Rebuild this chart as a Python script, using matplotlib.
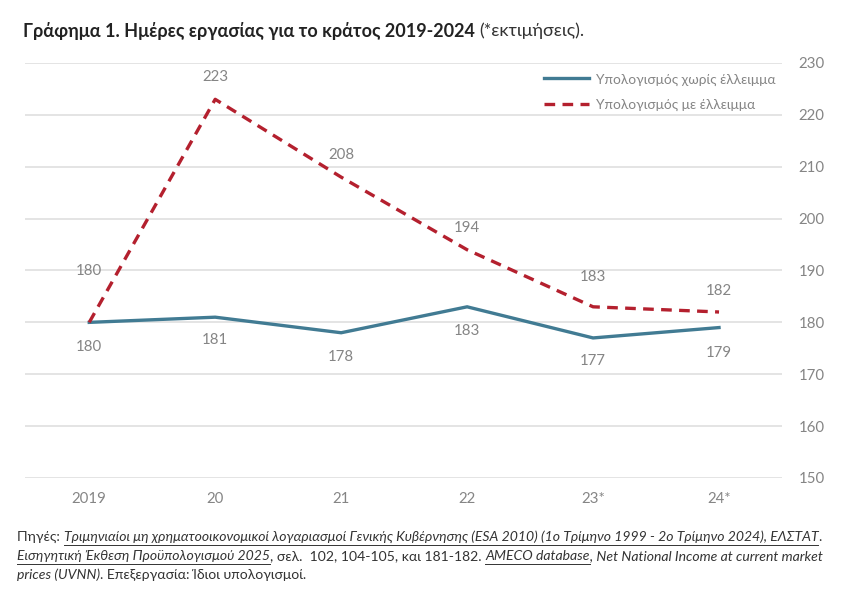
import matplotlib
matplotlib.use("Agg")
import matplotlib.pyplot as plt
from matplotlib.lines import Line2D

plt.rcParams['font.family'] = ['Lato', 'Noto Sans', 'DejaVu Sans']

years = ["2019", "20", "21", "22", "23*", "24*"]
no_deficit = [180, 181, 178, 183, 177, 179]
with_deficit = [180, 223, 208, 194, 183, 182]
yticks = [150, 160, 170, 180, 190, 200, 210, 220, 230]

BLUE = "#417b93"
RED = "#b4202e"
GREY = "#858585"
GRID = "#dcdcdc"

fig = plt.figure(figsize=(8.51, 6.09), dpi=100)
ax = fig.add_axes([25 / 851, 1 - 478 / 609, (782 - 25) / 851, (478 - 63) / 609])

x = list(range(len(years)))
ax.plot(x, no_deficit, color=BLUE, lw=2.4, solid_joinstyle="miter", label="Υπολογισμός χωρίς έλλειμμα", zorder=3)
ax.plot(x, with_deficit, color=RED, lw=2.4, ls=(0, (3.2, 2.2)), label="Υπολογισμός με έλλειμμα", zorder=3)

ax.set_xlim(-0.51, 5.5)
ax.set_ylim(150, 230)
ax.set_yticks(yticks)
ax.yaxis.tick_right()
ax.set_xticks(x)
ax.set_xticklabels(years)
ax.tick_params(axis="both", length=0, labelsize=10.8, labelcolor=GREY)
ax.tick_params(axis="y", pad=12)
ax.tick_params(axis="x", pad=10)
ax.grid(axis="y", color=GRID, lw=1.1)
for s in ax.spines.values():
    s.set_visible(False)

# data labels
blue_off = [-25, -23, -24, -24, -23, -25]
red_off = [51, 22, 22, 22, 30, 21]
for i in x:
    ax.annotate(str(no_deficit[i]), (i, no_deficit[i]), xytext=(0, blue_off[i]), textcoords="offset pixels",
                ha="center", va="center", color=GREY, fontsize=10.8)
    ax.annotate(str(with_deficit[i]), (i, with_deficit[i]), xytext=(0, red_off[i]), textcoords="offset pixels",
                ha="center", va="center", color=GREY, fontsize=10.8)

handles = [Line2D([], [], color=BLUE, lw=2.4),
           Line2D([], [], color=RED, lw=2.4, ls=(0, (3.2, 2.2)))]
ax.legend(handles, ["Υπολογισμός χωρίς έλλειμμα", "Υπολογισμός με έλλειμμα"], loc="upper right",
          bbox_to_anchor=(1.008, 1.005), frameon=False, fontsize=9.9, labelcolor=GREY,
          handlelength=3.3, handletextpad=0.5, labelspacing=0.95)

# title
t1 = fig.text(23 / 851, 1 - 31 / 609, "Γράφημα 1. Ημέρες εργασίας για το κράτος 2019-2024", fontsize=13,
              fontweight="bold", color="#222222", va="center")
fig.canvas.draw()
r = fig.canvas.get_renderer()
bb = t1.get_window_extent(r)
fig.text(bb.x1 / 851 + 4 / 851, 1 - 31 / 609, "(*εκτιμήσεις).", fontsize=13, color="#333333", va="center")

# footnote, pieces of (text, italic, underline)
foot = [
    [("Πηγές: ", False, False),
     ("Τριμηνιαίοι μη χρηματοοικονομικοί λογαριασμοί Γενικής Κυβέρνησης (ESA 2010) (1ο Τρίμηνο 1999 - 2ο Τρίμηνο 2024), ΕΛΣΤΑΤ", True, True),
     (".", False, False)],
    [("Εισηγητική Έκθεση Προϋπολογισμού 2025", True, True),
     (", σελ.  102, 104-105, και 181-182. ", False, False),
     ("AMECO database", True, True),
     (", Net National Income at current market", True, False)],
    [("prices (UVNN)", True, False),
     (". Επεξεργασία: Ίδιοι υπολογισμοί.", False, False)],
]
line_y = [537, 556, 575]
for pieces, yy in zip(foot, line_y):
    xpos = 17
    for txt, it, ul in pieces:
        t = fig.text(xpos / 851, 1 - yy / 609, txt, fontsize=10.05, color="#333333",
                     style="italic" if it else "normal", va="center")
        b = t.get_window_extent(r)
        if ul:
            fig.add_artist(Line2D([b.x0 / 851, b.x1 / 851], [(609 - yy - 7.5) / 609] * 2,
                                  color="#333333", lw=0.7, transform=fig.transFigure))
        xpos = b.x1

fig.savefig("out.png", dpi=100, facecolor="white")
